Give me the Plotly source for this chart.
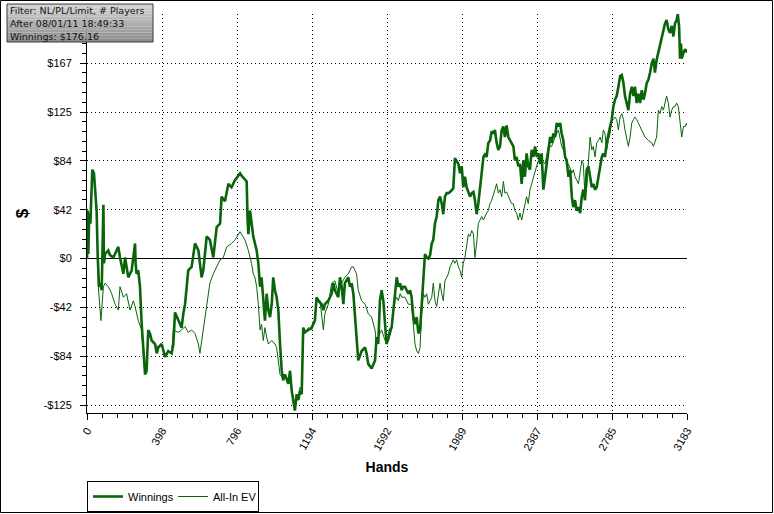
import plotly.graph_objects as go

# ---------------- data ----------------
x_ticklabels = ["0", "398", "796", "1194", "1592", "1989", "2387", "2785", "3183"]
y_ticklabels = ["-$125", "-$84", "-$42", "$0", "$42", "$84", "$125", "$167", "$209"]
# on the left the top label is hidden behind the info box in the reference
y_ticklabels_left = y_ticklabels[:-1] + [""]
info_lines = ["Filter: NL/PL/Limit, # Players", "After 08/01/11 18:49:33", "Winnings: $176.16"]

winnings_hands = [
    0, 4, 7, 12, 18, 25, 28, 37, 42, 48, 51, 57, 64, 69, 78, 87, 90, 96, 113, 122,
    140, 157, 166, 175, 193, 202, 210, 219, 237, 255, 258, 263, 272, 281, 290, 299, 308, 316, 325, 334,
    343, 361, 370, 378, 396, 414, 431, 449, 458, 467, 484, 502, 511, 520, 529, 537, 555, 573, 591, 608,
    617, 635, 652, 670, 688, 706, 714, 732, 750, 767, 785,
    812, 820, 838, 847, 852, 856, 865, 873, 882, 891, 900, 909, 918, 926, 935, 944, 953, 962, 971, 980,
    988, 997, 1006, 1015, 1024, 1033, 1041, 1050, 1068, 1077, 1086, 1094, 1103, 1112, 1121, 1130, 1139, 1147, 1156, 1174,
    1192, 1209, 1218, 1227, 1245, 1254, 1262, 1280, 1298, 1307, 1315, 1333, 1342, 1351, 1360, 1368, 1386, 1395, 1404, 1413,
    1421, 1430, 1439, 1457, 1475, 1483, 1492, 1510, 1528, 1536, 1545, 1554, 1563, 1572, 1581, 1589,
    1599, 1607, 1616, 1625, 1634, 1643, 1652, 1661, 1669, 1678, 1687, 1696, 1705, 1714, 1722, 1731, 1740, 1749, 1758, 1767,
    1775, 1784, 1793, 1802, 1811, 1820, 1829, 1837, 1846, 1855, 1864, 1873, 1882, 1890, 1899, 1908, 1917, 1926, 1935, 1943,
    1952, 1961, 1970, 1979, 1988, 1996, 2005, 2014, 2023, 2032, 2041, 2050, 2058, 2067, 2076, 2085, 2094, 2103, 2111, 2120,
    2129, 2138, 2147, 2156, 2164, 2173, 2182, 2191, 2200, 2209, 2217, 2226, 2235, 2244, 2253, 2262, 2270, 2279, 2288, 2297,
    2306, 2315, 2323, 2332, 2341, 2350, 2359, 2368,
    2377, 2386, 2395, 2404, 2412, 2421, 2430, 2439, 2448, 2457, 2465, 2474, 2483, 2492, 2501, 2510, 2518, 2527, 2536, 2545,
    2554, 2563, 2572, 2580, 2589, 2598, 2607, 2616, 2625, 2633, 2642, 2651, 2660, 2669, 2678, 2686, 2695, 2704, 2713, 2722,
    2731, 2739, 2748, 2757, 2766, 2775, 2784, 2792, 2801, 2810, 2819, 2828, 2837, 2846, 2854, 2863, 2872, 2881, 2890, 2899,
    2907, 2916, 2925, 2934, 2943, 2952, 2960, 2969, 2978, 2987, 2996, 3005, 3013, 3022, 3031, 3040, 3049, 3058, 3066, 3075,
    3084, 3093, 3102, 3111, 3119, 3128, 3134, 3141, 3146, 3151, 3155, 3164, 3173, 3181, 3183,
]
winnings = [
    0, 41, 4, 39, 30, 53, 76, 73, 64, 47, 41, 1, -24, -21, -27, 46, -4, 4, 7, 3,
    1, 7, 10, 1, -13, 1, -7, -16, -10, 13, -4, -13, -10, -24, -56, -81, -99, -96, -61, -64,
    -70, -73, -81, -76, -73, -84, -79, -81, -73, -46, -53, -59, -47, -39, -24, -10, -7, 13, 7, -16,
    -10, 19, 16, 1, 27, 30, 53, 49, 64, 61, 67,
    73, 71, 67, 66, 33, 21, 41, 30, 19, 13, 7, -4, -24, -16, -36, -53, -30, -44, -50, -39,
    -16, -27, -33, -44, -73, -96, -104, -99, -107, -96, -113, -121, -130, -116, -121, -113, -116, -59, -63, -61,
    -59, -53, -33, -36, -39, -44, -39, -36, -30, -21, -27, -33, -16, -24, -39, -21, -16, -24, -21, -30,
    -50, -67, -87, -79, -76, -81, -90, -94, -87, -67, -73, -36, -27, -36, -61, -73,
    -68, -61, -59, -44, -30, -16, -24, -21, -27, -24, -24, -27, -30, -27, -33, -50, -56, -50, -64, -61,
    -39, -10, 4, 1, 0, 3, 13, 16, 30, 36, 50, 53, 47, 38, 53, 56, 56, 57, 59, 60,
    86, 84, 81, 73, 79, 61, 70, 61, 56, 53, 56, 57, 50, 38, 47, 59, 70, 87, 89, 87,
    99, 101, 109, 107, 110, 99, 93, 96, 110, 113, 104, 114, 104, 101, 99, 96, 84, 87, 79, 81,
    64, 84, 70, 90, 79, 76, 93, 87,
    96, 87, 90, 81, 90, 59, 70, 81, 93, 104, 99, 107, 104, 116, 113, 116, 107, 101, 87, 84,
    70, 76, 53, 44, 50, 41, 44, 39, 53, 59, 50, 76, 79, 70, 61, 64, 59, 61, 70, 81,
    87, 90, 87, 99, 107, 113, 119, 130, 136, 139, 147, 156, 157, 150, 139, 133, 127, 141, 147, 139,
    147, 133, 141, 133, 144, 136, 141, 150, 153, 159, 167, 171, 159, 170, 176, 181, 187, 193, 201, 204,
    196, 193, 199, 190, 201, 204, 209, 199, 171, 184, 171, 176, 179, 177, 176.16,
]

ev_hands = [
    0, 4, 7, 12, 18, 25, 28, 37, 42, 48, 51, 60, 69, 74, 87, 96, 113, 131, 149, 166,
    175, 193, 210, 228, 246, 255, 272, 290, 299, 308, 316, 325, 343, 361, 378, 396, 414, 431, 449, 458,
    484, 502, 520, 537, 555, 573, 591, 599, 608, 617, 635, 652, 670, 688, 706, 723, 741, 767, 785,
    812, 820, 838, 856, 873, 882, 891, 900, 909, 918, 926, 935, 944, 953, 962, 980, 997, 1006, 1015, 1024,
    1033, 1041, 1050, 1068, 1077, 1086, 1094, 1103, 1112, 1121, 1130, 1139, 1147, 1156, 1174, 1192, 1209, 1218, 1236, 1254,
    1262, 1280, 1298, 1315, 1333, 1351, 1368, 1386, 1404, 1413, 1421, 1430, 1439, 1457, 1475, 1492, 1510, 1528, 1536, 1545,
    1563, 1581,
    1599, 1616, 1625, 1634, 1643, 1652, 1661, 1669, 1687, 1705, 1722, 1731, 1740, 1749, 1758, 1767, 1775, 1784, 1793, 1802,
    1811, 1820, 1829, 1837, 1846, 1855, 1864, 1873, 1882, 1890, 1899, 1908, 1917, 1926, 1935, 1943, 1952, 1961, 1970, 1979,
    1988, 1996, 2005, 2014, 2023, 2032, 2041, 2050, 2058, 2067, 2076, 2085, 2094, 2103, 2111, 2120, 2129, 2138, 2147, 2156,
    2164, 2173, 2182, 2191, 2200, 2209, 2217, 2226, 2235, 2244, 2253, 2262, 2270, 2279, 2288, 2297, 2306, 2315, 2323, 2332,
    2341, 2350, 2359, 2368, 2377, 2385,
    2395, 2412, 2430, 2448, 2465, 2483, 2501, 2518, 2536, 2545, 2554, 2572, 2580, 2589, 2607, 2616, 2625, 2633, 2642, 2651,
    2660, 2669, 2678, 2686, 2695, 2704, 2713, 2722, 2731, 2739, 2748, 2757, 2766, 2775, 2784, 2792, 2801, 2810, 2819, 2828,
    2837, 2846, 2854, 2863, 2872, 2881, 2890, 2899, 2907, 2916, 2925, 2943, 2960, 2978, 2996, 3005, 3013, 3022, 3031, 3040,
    3049, 3058, 3066, 3075, 3084, 3093, 3102, 3111, 3119, 3128, 3137, 3146, 3155, 3164, 3173, 3181, 3183,
]
all_in_ev = [
    0, 41, 4, 39, 30, 53, 76, 73, 64, 47, 41, -24, -50, -53, -24, -21, -24, -30, -39, -44,
    -24, -33, -30, -44, -36, -41, -53, -61, -81, -96, -90, -64, -70, -73, -76, -73, -84, -79, -81, -61,
    -63, -61, -58, -63, -61, -64, -73, -81, -70, -59, -39, -21, -13, -7, -1, 1, 10, 13, 16,
    23, 21, 16, 7, -4, -13, -16, -24, -39, -61, -56, -70, -59, -67, -73, -70, -73, -76, -90, -99,
    -101, -104, -99, -107, -96, -113, -119, -127, -116, -119, -110, -113, -61, -64, -59, -61, -53, -33, -36, -61,
    -47, -39, -21, -19, -30, -21, -16, -13, -7, -7, -10, -13, -27, -36, -39, -47, -50, -61, -73, -67,
    -61, -70,
    -70, -61, -44, -36, -33, -36, -30, -33, -33, -39, -39, -56, -73, -79, -81, -76, -47, -30, -33, -30,
    -39, -36, -33, -21, -36, -41, -30, -21, -30, -36, -19, -16, -13, -7, -4, -1, -4, -1, -7, -10,
    -16, -4, 1, 13, 21, 19, 24, 21, 1, 13, 30, 33, 36, 33, 36, 39, 41, 47, 50, 56,
    59, 64, 56, 59, 53, 66, 56, 57, 53, 50, 47, 47, 41, 39, 33, 39, 33, 41, 47, 53,
    47, 59, 64, 70, 76, 79,
    84, 84, 81, 96, 96, 104, 110, 96, 90, 79, 81, 73, 76, 70, 64, 76, 84, 81, 53, 61,
    87, 104, 93, 96, 87, 99, 101, 104, 99, 110, 107, 93, 101, 107, 119, 119, 121, 119, 110, 121,
    124, 119, 110, 104, 96, 104, 116, 119, 121, 119, 116, 110, 104, 101, 99, 96, 99, 104, 127, 124,
    130, 127, 133, 139, 133, 121, 127, 130, 130, 133, 130, 116, 104, 113, 113, 116, 114,
]

assert len(winnings_hands) == len(winnings), (len(winnings_hands), len(winnings))
assert len(ev_hands) == len(all_in_ev), (len(ev_hands), len(all_in_ev))

# ---------------- layout helpers ----------------
W, H = 774, 514
ML, MR, MT, MB = 87, 87, 14, 101
PW, PH = W - ML - MR, H - MT - MB

def px(xp):  # pixel x -> paper x
    return (xp - ML) / PW

def py(yp):  # pixel y -> paper y
    return (H - MB - yp) / PH

X_MAX = 3183
X_RANGE = [0, X_MAX]
Y_RANGE = [-132, 209.2]
x_step = X_MAX / 8
y_step = 209 / 5
x_tickvals = [i * x_step for i in range(9)]
y_tickvals = [i * y_step for i in range(-3, 6)]
x_minor = [i * x_step / 5 for i in range(41)]
y_minor = [i * y_step / 5 for i in range(-16, 26)]

GREEN = "#0a640a"
TICKFONT = dict(family="Liberation Sans, Arial", size=11, color="black")

fig = go.Figure()
fig.add_trace(go.Scatter(x=winnings_hands, y=winnings, mode="lines", name="Winnings",
                         line=dict(color=GREEN, width=2.6)))
fig.add_trace(go.Scatter(x=ev_hands, y=all_in_ev, mode="lines", name="All-In EV",
                         line=dict(color=GREEN, width=1)))

base_x = dict(range=X_RANGE, tickmode="array", tickvals=x_tickvals, ticktext=x_ticklabels,
              tickcolor="black", zeroline=False)
base_y = dict(range=Y_RANGE, tickmode="array", tickvals=y_tickvals,
              tickcolor="black")

fig.update_layout(
    width=W, height=H,
    margin=dict(l=ML, r=MR, t=MT, b=MB, autoexpand=False),
    paper_bgcolor="white", plot_bgcolor="white",
    font=dict(family="Liberation Sans, Arial", size=11, color="black"),
    xaxis=dict(**base_x, ticks="outside", ticklen=6, showline=True, linecolor="black", linewidth=1,
               showgrid=True, gridcolor="black", gridwidth=1, griddash="1px,3px",
               tickangle=-60, tickfont=TICKFONT,
               minor=dict(tickvals=x_minor, ticks="outside", ticklen=4, tickcolor="black", showgrid=False),
               title=dict(text="<b>Hands</b>", font=dict(family="Liberation Sans, Arial", size=14),
                          standoff=10)),
    xaxis2=dict(**base_x, overlaying="x", anchor="y", side="bottom", ticks="inside", ticklen=6,
                showticklabels=False, showgrid=False, showline=False,
                minor=dict(tickvals=x_minor, ticks="inside", ticklen=4, tickcolor="black", showgrid=False)),
    xaxis3=dict(**base_x, overlaying="x", anchor="y", side="top", ticks="inside", ticklen=6,
                showticklabels=False, showgrid=False, showline=True, linecolor="black", linewidth=1,
                minor=dict(tickvals=x_minor, ticks="inside", ticklen=4, tickcolor="black", showgrid=False)),
    yaxis=dict(**base_y, ticktext=y_ticklabels_left, side="left", ticks="outside", ticklen=6,
               showline=True, linecolor="black",
               linewidth=1, showgrid=True, gridcolor="black", gridwidth=1, griddash="1px,3px",
               zeroline=True, zerolinecolor="black", zerolinewidth=1, tickfont=TICKFONT,
               ticklabelstandoff=6,
               minor=dict(tickvals=y_minor, ticks="outside", ticklen=4, tickcolor="black", showgrid=False),
               title=dict(text="<b>$</b>", font=dict(family="Liberation Sans, Arial", size=17),
                          standoff=10)),
    yaxis2=dict(**base_y, ticktext=y_ticklabels, overlaying="y", anchor="x", side="right",
                ticks="outside", ticklen=6,
                showline=True, linecolor="black", linewidth=1, showgrid=False, zeroline=False,
                tickfont=TICKFONT, ticklabelstandoff=7,
                minor=dict(tickvals=y_minor, ticks="outside", ticklen=4, tickcolor="black", showgrid=False),
                title=dict(text="<b>$</b>", font=dict(family="Liberation Sans, Arial", size=17),
                           standoff=7)),
    yaxis3=dict(**base_y, ticktext=y_ticklabels, overlaying="y", anchor="x", side="left",
                ticks="inside", ticklen=6,
                showticklabels=False, showgrid=False, zeroline=False, showline=False,
                minor=dict(tickvals=y_minor, ticks="inside", ticklen=4, tickcolor="black", showgrid=False)),
    yaxis4=dict(**base_y, ticktext=y_ticklabels, overlaying="y", anchor="x", side="right",
                ticks="inside", ticklen=6,
                showticklabels=False, showgrid=False, zeroline=False, showline=False,
                minor=dict(tickvals=y_minor, ticks="inside", ticklen=4, tickcolor="black", showgrid=False)),
    legend=dict(orientation="h", x=0, y=py(481), xanchor="left", yanchor="top",
                bgcolor="white", bordercolor="black", borderwidth=1,
                font=dict(family="Liberation Sans, Arial", size=11, color="black"),
                itemwidth=30, tracegroupgap=0, entrywidth=40, entrywidthmode="pixels"),
    showlegend=True,
)

# gradient info box (top-left)
shapes = []
box_top, box_bot, box_l, box_r = 4, 42, 7, 153
n_bands = 12
for i in range(n_bands):
    t = i / (n_bands - 1)
    g = int(round(0xd2 - t * (0xd2 - 0x8e)))
    col = f"rgb({g},{g},{g})"
    y0p = box_top + (box_bot - box_top) * i / n_bands
    y1p = box_top + (box_bot - box_top) * (i + 1) / n_bands
    shapes.append(dict(type="rect", xref="paper", yref="paper", x0=px(box_l), x1=px(box_r),
                       y0=py(y1p), y1=py(y0p), fillcolor=col, line=dict(width=0), layer="above"))
shapes.append(dict(type="rect", xref="paper", yref="paper", x0=px(box_l), x1=px(box_r),
                   y0=py(box_bot), y1=py(box_top), line=dict(color="#3a3a3a", width=1), layer="above"))
# outer frame of the image
shapes.append(dict(type="rect", xref="paper", yref="paper", x0=px(0.5), x1=px(W - 1.5),
                   y0=py(H - 1.5), y1=py(0.5), line=dict(color="black", width=1), layer="above"))
fig.update_layout(shapes=shapes)

line_centers = [10, 23, 36]
for txt, yc in zip(info_lines, line_centers):
    fig.add_annotation(
        xref="paper", yref="paper", x=px(9), y=py(yc), xanchor="left", yanchor="middle",
        text=txt, showarrow=False, align="left", borderpad=0,
        font=dict(family="DejaVu Sans", size=9.5, color="#111111"),
    )

fig.write_html(
    "out.html",
    config={"displayModeBar": False},
    post_script="document.body.style.margin='0';document.body.style.overflow='hidden';",
)
